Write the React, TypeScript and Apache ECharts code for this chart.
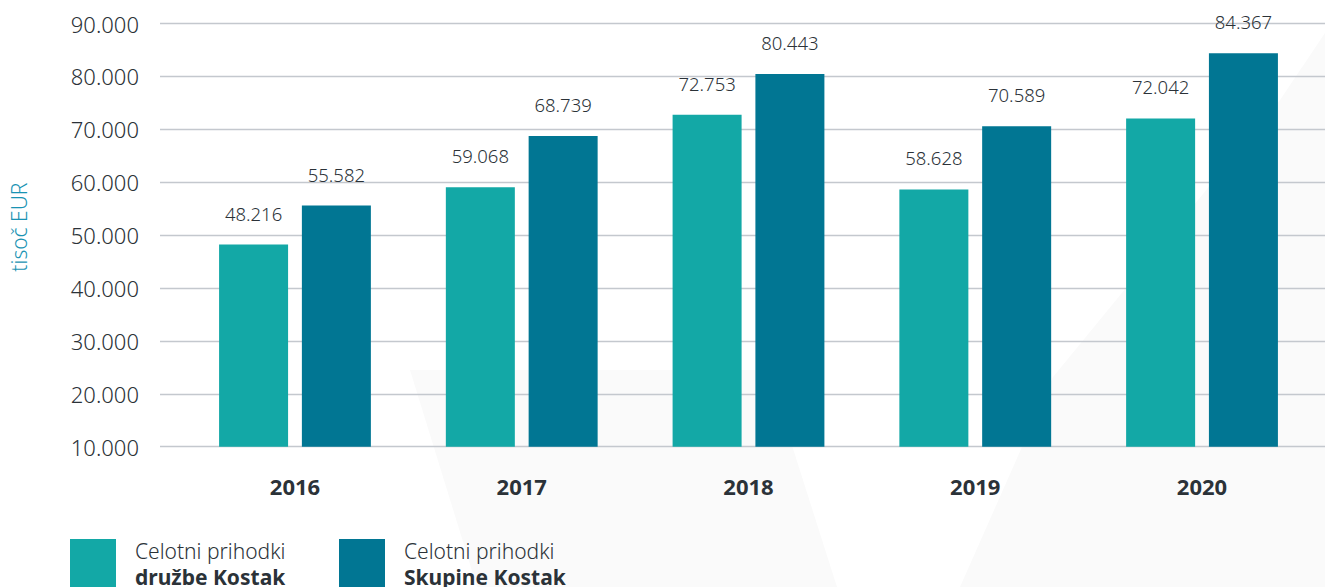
import React, { useEffect, useRef } from "react";
import * as echarts from "echarts";

const years = ["2016", "2017", "2018", "2019", "2020"];
const druzbeValues = [48216, 59068, 72753, 58628, 72042];
const skupineValues = [55582, 68739, 80443, 70589, 84367];
const seriesNames = ["Celotni prihodki družbe Kostak", "Celotni prihodki Skupine Kostak"];
const yAxisName = "tisoč EUR";

const TEAL = "#13a8a6";
const BLUE = "#017693";
const TEXT = "#2b3238";
const FONT = "'Noto Sans', sans-serif";

const fmt = (v: number) => {
  const s = Math.round(v).toString();
  return s.replace(/\B(?=(\d{3})+(?!\d))/g, ".");
};

export default function App() {
  const ref = useRef<HTMLDivElement>(null);
  useEffect(() => {
    if (!ref.current) return;
    const chart = echarts.init(ref.current, undefined, { renderer: "svg" });
    const gridTop = 23.5;
    const gridBottom = 140.3;
    const legendFormatter = (name: string) => {
      const first = "Celotni prihodki";
      const rest = name.slice(first.length + 1);
      return `{a|${first}}\n{b|${rest}}`;
    };
    const legendRich = {
      a: { fontSize: 21, fontFamily: FONT, color: TEXT, lineHeight: 26, fontWeight: 300 },
      b: { fontSize: 21, fontFamily: FONT, color: TEXT, lineHeight: 26, fontWeight: "bold" },
    };
    const legendBase = {
      top: 539,
      padding: 0,
      icon: "rect",
      itemWidth: 46,
      itemHeight: 50,
      formatter: legendFormatter,
      textStyle: { rich: legendRich, padding: [0, 0, 0, 14] },
      selectedMode: false,
    };
    chart.setOption({
      animation: false,
      textStyle: { fontFamily: FONT },
      graphic: [
        {
          type: "polygon",
          z: -10,
          silent: true,
          shape: { points: [[410, 370], [768, 370], [837, 587], [477, 587]] },
          style: { fill: "#fafafa" },
        },
        {
          type: "polygon",
          z: -10,
          silent: true,
          shape: { points: [[960, 587], [1053, 377], [1280, 100], [1325, 33], [1325, 587]] },
          style: { fill: "#fafafa" },
        },
      ],
      grid: [
        { left: 181.6, right: 9.6, top: gridTop, bottom: gridBottom },
        { left: 159, right: 0, top: gridTop, bottom: gridBottom },
      ],
      legend: [
        { ...legendBase, left: 70, data: [seriesNames[0]] },
        { ...legendBase, left: 339, data: [seriesNames[1]] },
      ],
      xAxis: [
        {
          type: "category",
          gridIndex: 0,
          data: years,
          axisLine: { show: false },
          axisTick: { show: false },
          axisLabel: {
            margin: 28,
            fontSize: 22,
            fontWeight: "bold",
            color: TEXT,
            fontFamily: FONT,
          },
        },
        {
          type: "category",
          gridIndex: 1,
          data: years,
          show: false,
        },
      ],
      yAxis: [
        {
          type: "value",
          gridIndex: 0,
          min: 10000,
          max: 90000,
          interval: 10000,
          show: false,
          splitLine: { show: false },
        },
        {
          type: "value",
          gridIndex: 1,
          min: 10000,
          max: 90000,
          interval: 10000,
          name: yAxisName,
          nameLocation: "middle",
          nameGap: 131,
          nameTextStyle: {
            color: "#1a93b3",
            fontSize: 21,
            fontFamily: FONT,
            fontWeight: 300,
            padding: [0, 0, 0, 16],
          },
          axisLine: { show: false },
          axisTick: { show: false },
          axisLabel: {
            margin: 21,
            fontSize: 22,
            color: TEXT,
            fontFamily: FONT,
            fontWeight: 300,
            formatter: (v: number) => fmt(v),
          },
          splitLine: { show: true, lineStyle: { color: "#c4c8ce", width: 1.3 } },
        },
      ],
      series: [
        {
          name: seriesNames[0],
          type: "bar",
          xAxisIndex: 0,
          yAxisIndex: 0,
          data: druzbeValues,
          barWidth: 69,
          barGap: "20%",
          itemStyle: { color: TEAL },
          label: {
            show: true,
            position: "top",
            distance: 22,
            fontSize: 18.5,
            color: TEXT,
            fontFamily: FONT,
            fontWeight: 300,
            formatter: (p: any) => fmt(p.value),
          },
        },
        {
          name: seriesNames[1],
          type: "bar",
          xAxisIndex: 0,
          yAxisIndex: 0,
          data: skupineValues,
          barWidth: 69,
          barGap: "20%",
          itemStyle: { color: BLUE },
          label: {
            show: true,
            position: "top",
            distance: 22,
            fontSize: 18.5,
            color: TEXT,
            fontFamily: FONT,
            fontWeight: 300,
            formatter: (p: any) => fmt(p.value),
          },
        },
      ],
    });
    return () => chart.dispose();
  }, []);
  return (
    <div
      ref={ref}
      style={{ position: "fixed", left: 0, top: 0, width: 1325, height: 587, background: "#ffffff" }}
    />
  );
}
